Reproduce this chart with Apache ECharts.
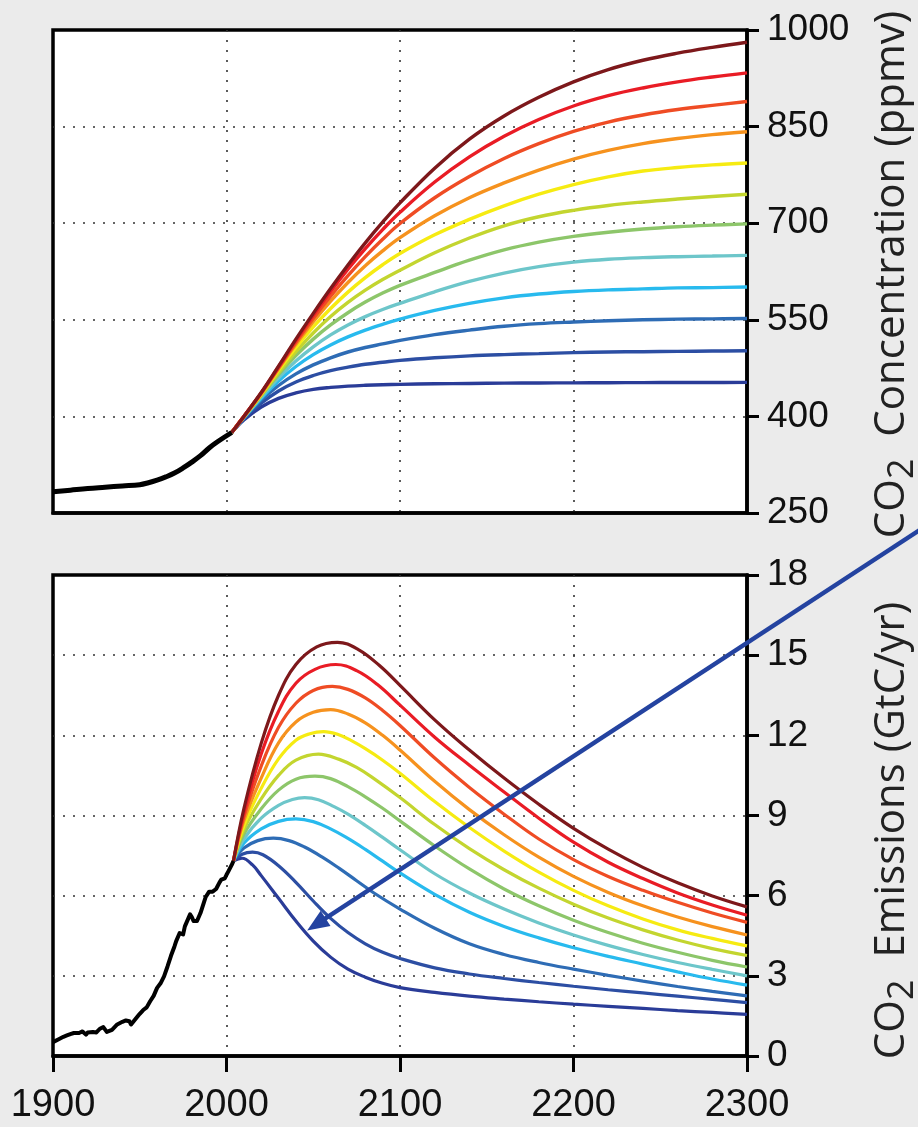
<!DOCTYPE html>
<html><head><meta charset="utf-8">
<script src="https://cdn.jsdelivr.net/npm/echarts@6/dist/echarts.min.js"></script>
<style>html,body{margin:0;padding:0;background:#ebebeb}#c{width:918px;height:1127px}</style>
</head><body><div id="c"></div>
<script>
// ---------- data ----------
const xTicks = [1900, 2000, 2100, 2200, 2300];
const concTicks = [250, 400, 550, 700, 850, 1000];
const emisTicks = [0, 3, 6, 9, 12, 15, 18];

const scenarioNames = ['450','500','550','600','650','700','750','800','850','900','950','1000'];
const scenarioColors = ['#2a3c98','#2c4ea3','#2e6cb5','#28baee','#6dc6ca','#8dc66a','#c3d52f','#f6eb12','#f6921e','#ef4c24','#e91c25','#7d181b'];

const histConcYears  = [1900, 1910, 1920, 1930, 1940, 1950, 1955, 1960, 1965, 1970, 1975, 1980, 1985, 1990, 1995, 2003];
const histConcValues = [283, 285.5, 288, 290, 292, 294, 297, 301, 306, 312, 320, 329, 339, 351, 361, 375];

const concYears = [2003, 2010, 2020, 2030, 2040, 2050, 2060, 2070, 2080, 2090, 2100, 2120, 2140, 2160, 2180, 2200, 2220, 2240, 2260, 2280, 2300];
const conc450  = [375, 394.5, 414.5, 428, 436.5, 442, 445, 447, 448.3, 449.2, 449.8, 450.6, 451.2, 451.6, 451.9, 452.1, 452.3, 452.5, 452.6, 452.7, 452.8];
const conc500  = [375, 396, 420.5, 439.5, 453.5, 463.5, 471, 476.5, 481, 484, 487, 491, 494, 496, 497.5, 499, 500, 500.5, 501, 501.5, 502];
const conc550  = [375, 397.5, 425, 448, 466, 480, 491, 500, 507, 512.5, 518, 527, 534, 540, 544, 546.5, 548.5, 550, 551, 551.5, 552];
const conc600  = [375, 398, 428, 455, 477.5, 496, 511, 523.5, 534, 543, 551, 564.5, 575.5, 584, 590, 594, 596.5, 598, 599.5, 600, 601];
const conc650  = [375, 398.5, 430, 460, 486, 508, 526.5, 542, 555, 566, 575.5, 593.5, 609.5, 622.5, 632.5, 639.5, 644, 646.5, 648, 649, 650];
const conc700  = [375, 399, 432, 465, 494.5, 520, 542, 561, 577.5, 591.5, 603.5, 623.5, 642.5, 658.5, 670.5, 679.5, 686, 691, 694.5, 697, 699];
const conc750  = [375, 399, 433, 468, 500.5, 529.5, 555, 577, 596, 612.5, 627, 654, 677, 696, 710, 720, 727.5, 733, 737.5, 741.5, 745];
const conc800  = [375, 399.5, 434.5, 471.5, 507, 539, 567.5, 593, 615.5, 635.5, 653, 682, 706, 727, 745, 760, 772, 781, 786.5, 790.5, 793.5];
const conc850  = [375, 400, 435.5, 474, 512, 547, 579, 608, 634, 657, 677.5, 711.5, 739.5, 762.5, 782.5, 799.5, 813, 823.5, 831.5, 837.5, 842];
const conc900  = [375, 400, 436, 475.5, 515, 552, 586.5, 618.5, 648, 675, 699.5, 739.5, 772.5, 800.5, 823.5, 842.5, 857, 868, 876.5, 883, 889];
const conc950  = [375, 400, 436.5, 477, 518, 557, 594, 628.5, 660.5, 690, 717, 764, 803, 835, 861, 882, 898, 910, 919.5, 927, 933.5];
const conc1000 = [375, 400, 437, 478, 520, 560, 598.5, 635, 669.5, 701.5, 731.5, 785.5, 830.5, 866.5, 895.5, 919.5, 938.5, 953, 964, 973, 981];

const histEmisYears  = [1900,1903,1906,1908,1910,1912,1913,1915,1917,1919,1920,1923,1925,1927,1929,1931,1932,1934,1937,1938,1940,1942,1944,1945,1946,1948,1950,1952,1954,1956,1958,1960,1962,1964,1966,1968,1970,1971,1973,1974,1975,1976,1977,1979,1980,1981,1982,1983,1985,1987,1988,1990,1991,1992,1994,1996,1997,1998,1999,2000,2001,2002,2003,2004];
const histEmisValues = [0.52,0.62,0.72,0.77,0.82,0.86,0.92,0.86,0.92,0.80,0.88,0.90,0.88,1.02,1.08,0.90,0.84,0.98,1.18,1.12,1.28,1.33,1.30,1.18,1.24,1.42,1.58,1.72,1.82,2.05,2.25,2.55,2.72,2.98,3.35,3.75,4.10,4.30,4.60,4.58,4.55,4.85,5.00,5.30,5.20,5.05,5.00,5.05,5.35,5.75,5.95,6.15,6.20,6.15,6.25,6.50,6.60,6.60,6.65,6.78,6.90,6.95,7.15,7.30];

// emission scenarios as [year, GtC/yr] (each includes its peak year)
const emis450  = [[2004,7.3],[2009,7.4],[2015,7.15],[2020,6.75],[2030,5.9],[2040,5.05],[2050,4.3],[2060,3.7],[2070,3.25],[2080,2.95],[2090,2.72],[2100,2.56],[2120,2.38],[2140,2.24],[2160,2.13],[2180,2.03],[2200,1.94],[2220,1.86],[2240,1.78],[2260,1.7],[2280,1.63],[2300,1.56]];
const emis500  = [[2004,7.3],[2009,7.55],[2015,7.63],[2021,7.53],[2030,7.12],[2040,6.5],[2050,5.8],[2060,5.15],[2070,4.62],[2080,4.2],[2090,3.88],[2100,3.65],[2120,3.3],[2140,3.07],[2160,2.9],[2180,2.75],[2200,2.61],[2220,2.48],[2240,2.36],[2260,2.24],[2280,2.12],[2300,2.0]];
const emis550  = [[2004,7.3],[2010,7.78],[2018,8.06],[2027,8.15],[2036,8.06],[2045,7.82],[2055,7.45],[2065,7.02],[2075,6.56],[2085,6.1],[2100,5.5],[2120,4.78],[2140,4.2],[2160,3.8],[2180,3.5],[2200,3.25],[2220,3.02],[2240,2.8],[2260,2.6],[2280,2.42],[2300,2.25]];
const emis600  = [[2004,7.3],[2010,7.96],[2020,8.5],[2030,8.78],[2040,8.87],[2050,8.77],[2060,8.5],[2070,8.14],[2080,7.73],[2090,7.29],[2100,6.85],[2120,6.05],[2140,5.38],[2160,4.85],[2180,4.42],[2200,4.05],[2220,3.73],[2240,3.44],[2260,3.15],[2280,2.88],[2300,2.65]];
const emis650  = [[2004,7.3],[2010,8.12],[2020,8.9],[2030,9.38],[2038,9.6],[2045,9.67],[2053,9.59],[2062,9.33],[2070,9.05],[2080,8.63],[2090,8.18],[2100,7.72],[2120,6.82],[2140,6.1],[2160,5.5],[2180,4.98],[2200,4.53],[2220,4.14],[2240,3.8],[2260,3.5],[2280,3.24],[2300,3.0]];
const emis700  = [[2004,7.3],[2010,8.3],[2020,9.25],[2030,9.95],[2040,10.36],[2051,10.47],[2060,10.38],[2070,10.08],[2080,9.7],[2090,9.27],[2100,8.8],[2120,7.86],[2140,7.0],[2160,6.25],[2180,5.62],[2200,5.08],[2220,4.62],[2240,4.22],[2260,3.88],[2280,3.58],[2300,3.33]];
const emis750  = [[2004,7.3],[2010,8.47],[2020,9.62],[2030,10.5],[2040,11.07],[2053,11.3],[2065,11.1],[2075,10.8],[2085,10.38],[2100,9.67],[2120,8.66],[2140,7.76],[2160,6.97],[2180,6.28],[2200,5.68],[2220,5.16],[2240,4.72],[2260,4.34],[2280,4.02],[2300,3.76]];
const emis800  = [[2004,7.3],[2010,8.62],[2020,10.02],[2030,11.12],[2040,11.82],[2048,12.06],[2056,12.14],[2064,12.04],[2072,11.8],[2080,11.5],[2090,11.07],[2100,10.58],[2120,9.52],[2140,8.55],[2160,7.67],[2180,6.88],[2200,6.2],[2220,5.62],[2240,5.13],[2260,4.72],[2280,4.4],[2300,4.12]];
const emis850  = [[2004,7.3],[2010,8.8],[2020,10.4],[2030,11.72],[2040,12.5],[2050,12.86],[2060,12.96],[2070,12.8],[2080,12.47],[2090,12.0],[2100,11.45],[2120,10.28],[2140,9.22],[2160,8.28],[2180,7.44],[2200,6.72],[2220,6.12],[2240,5.62],[2260,5.2],[2280,4.84],[2300,4.53]];
const emis900  = [[2004,7.3],[2010,8.95],[2020,10.85],[2030,12.3],[2040,13.2],[2050,13.68],[2061,13.83],[2070,13.72],[2080,13.4],[2090,12.93],[2100,12.37],[2120,11.15],[2140,10.05],[2160,9.05],[2180,8.12],[2200,7.35],[2220,6.72],[2240,6.2],[2260,5.75],[2280,5.35],[2300,5.0]];
const emis950  = [[2004,7.3],[2010,9.1],[2020,11.3],[2030,12.9],[2040,13.95],[2051,14.47],[2063,14.65],[2075,14.42],[2087,13.9],[2100,13.13],[2120,11.93],[2140,10.88],[2160,9.88],[2180,8.9],[2200,8.0],[2220,7.25],[2240,6.64],[2260,6.1],[2280,5.65],[2300,5.27]];
const emis1000 = [[2004,7.3],[2010,9.25],[2020,11.7],[2030,13.5],[2040,14.65],[2052,15.31],[2064,15.48],[2076,15.21],[2088,14.62],[2100,13.87],[2120,12.58],[2140,11.45],[2160,10.4],[2180,9.42],[2200,8.52],[2220,7.74],[2240,7.06],[2260,6.48],[2280,5.99],[2300,5.58]];

// annotation arrow (data units of the emissions panel)
const arrowFrom = [2400, 19.7];
const arrowTo   = [2046.5, 4.7];

// ---------- chart ----------
const concSets = [conc450, conc500, conc550, conc600, conc650, conc700, conc750, conc800, conc850, conc900, conc950, conc1000];
const emisSets = [emis450, emis500, emis550, emis600, emis650, emis700, emis750, emis800, emis850, emis900, emis950, emis1000];
const pair = (xs, ys) => xs.map((x, i) => [x, ys[i]]);

const dotted = {show: true, showMinLine: false, showMaxLine: false, lineStyle: {type: [2, 8], color: '#333', width: 1.6}};
const labelFont = 'Liberation Sans, Arial, sans-serif';
const plain = v => String(v);
const nameRich = {
  n: {fontFamily: 'Open Sans', fontSize: 42, color: '#222'},
  s: {fontFamily: 'Open Sans', fontSize: 36, color: '#222', padding: [22, 0, 0, 0]}
};

const series = [];
concSets.forEach((d, i) => series.push({
  name: scenarioNames[i], type: 'line', xAxisIndex: 0, yAxisIndex: 0,
  data: pair(concYears, d), showSymbol: false, symbol: 'none',
  smooth: 0.4,
  lineStyle: {color: scenarioColors[i], width: 3.4}, z: 3
}));
series.push({type: 'line', xAxisIndex: 0, yAxisIndex: 0, data: pair(histConcYears, histConcValues),
  showSymbol: false, symbol: 'none', smooth: 0.4,
  lineStyle: {color: '#000', width: 5}, z: 4});
emisSets.forEach((d, i) => series.push({
  name: scenarioNames[i], type: 'line', xAxisIndex: 1, yAxisIndex: 1,
  data: d, showSymbol: false, symbol: 'none',
  smooth: 0.4,
  lineStyle: {color: scenarioColors[i], width: 3.2}, z: 3
}));
series.push({type: 'line', xAxisIndex: 1, yAxisIndex: 1, data: pair(histEmisYears, histEmisValues),
  showSymbol: false, symbol: 'none', smooth: false,
  lineStyle: {color: '#000', width: 4, join: 'round'}, z: 4});

const gridBase = {left: 53, right: 171, show: true, backgroundColor: '#fff', borderColor: '#000', borderWidth: 3.5,
                  containLabel: false, outerBoundsMode: 'none'};

const chart = echarts.init(document.getElementById('c'), null, {renderer: 'canvas'});
chart.setOption({
  animation: false,
  backgroundColor: '#ebebeb',
  grid: [
    Object.assign({top: 30, height: 483}, gridBase),
    Object.assign({top: 575, height: 481}, gridBase)
  ],
  xAxis: [
    {type: 'value', gridIndex: 0, min: xTicks[0], max: xTicks[xTicks.length - 1], interval: 100,
     axisLine: {show: true, onZero: false, lineStyle: {color: '#000', width: 3.5}},
     axisTick: {show: false}, axisLabel: {show: false}, splitLine: dotted},
    {type: 'value', gridIndex: 1, min: xTicks[0], max: xTicks[xTicks.length - 1], interval: 100,
     axisLine: {show: true, onZero: false, lineStyle: {color: '#000', width: 3.5}},
     axisTick: {show: true, length: 16, lineStyle: {color: '#000', width: 3}},
     axisLabel: {show: true, fontSize: 38, color: '#111', margin: 31, fontFamily: labelFont, formatter: plain, showMinLabel: true, showMaxLabel: true},
     splitLine: dotted}
  ],
  yAxis: [
    {type: 'value', gridIndex: 0, position: 'right', min: concTicks[0], max: concTicks[concTicks.length - 1], interval: 150,
     axisLine: {show: true, onZero: false, lineStyle: {color: '#000', width: 3.5}},
     axisTick: {show: true, inside: false, length: 12, lineStyle: {color: '#000', width: 3}},
     axisLabel: {show: true, fontSize: 37, color: '#111', margin: 20, fontFamily: labelFont, formatter: plain, showMinLabel: true, showMaxLabel: true},
     splitLine: dotted,
     name: '{n|CO}{s|2}{n|  Concentration (ppmv)}', nameLocation: 'middle', nameRotate: 90, nameGap: 116,
     nameTextStyle: {fontFamily: 'Open Sans', fontSize: 42, color: '#222', padding: [0, 6, 0, 0], rich: nameRich}},
    {type: 'value', gridIndex: 1, position: 'right', min: emisTicks[0], max: emisTicks[emisTicks.length - 1], interval: 3,
     axisLine: {show: true, onZero: false, lineStyle: {color: '#000', width: 3.5}},
     axisTick: {show: true, inside: false, length: 12, lineStyle: {color: '#000', width: 3}},
     axisLabel: {show: true, fontSize: 37, color: '#111', margin: 20, fontFamily: labelFont, formatter: plain, showMinLabel: true, showMaxLabel: true},
     splitLine: dotted,
     name: '{n|CO}{s|2}{n|  Emissions (GtC/yr)}', nameLocation: 'middle', nameRotate: 90, nameGap: 116,
     nameTextStyle: {fontFamily: 'Open Sans', fontSize: 42, color: '#222', padding: [0, 30, 0, 0], rich: nameRich}}
  ],
  series: series
});

// arrow annotation positioned through the emissions panel's scales
const p0 = chart.convertToPixel({gridIndex: 1}, arrowFrom);
const p1 = chart.convertToPixel({gridIndex: 1}, arrowTo);
const dx = p1[0] - p0[0], dy = p1[1] - p0[1];
const len = Math.sqrt(dx * dx + dy * dy);
const ux = dx / len, uy = dy / len, nx = -uy, ny = ux;
const headL = 22, headW = 9;
const bx = p1[0] - ux * headL, by = p1[1] - uy * headL;
chart.setOption({
  graphic: [
    {type: 'line', z: 100, shape: {x1: p0[0], y1: p0[1], x2: bx + ux * 2, y2: by + uy * 2},
     style: {stroke: '#2443a0', lineWidth: 4.4}},
    {type: 'polygon', z: 100, shape: {points: [[p1[0], p1[1]], [bx + nx * headW, by + ny * headW], [bx - nx * headW, by - ny * headW]]},
     style: {fill: '#2443a0'}}
  ]
});
</script>
</body></html>
